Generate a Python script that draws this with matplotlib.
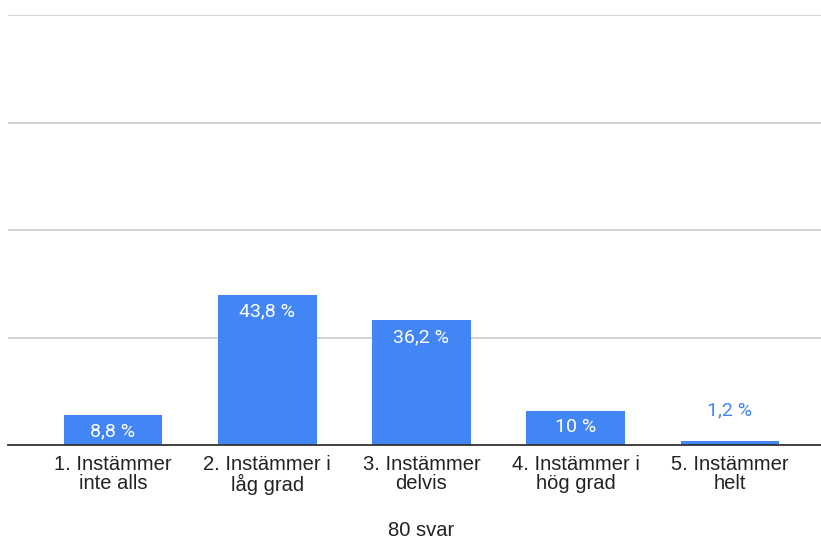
import numpy as np
import matplotlib.pyplot as plt

categories = ['1. Instämmer\ninte alls', '2. Instämmer i\nlåg grad', '3. Instämmer\ndelvis',
              '4. Instämmer i\nhög grad', '5. Instämmer\nhelt']
counts = [7, 35, 29, 8, 1]
pct_labels = ['8,8 %', '43,8 %', '36,2 %', '10 %', '1,2 %']
total_text = '80 svar'

bar_color = '#4285F4'

fig = plt.figure(figsize=(8.21, 5.38), dpi=100)
ax = fig.add_axes([8/821, 93/538, 813/821, 430/538])

x = np.arange(len(categories))
bars = ax.bar(x, counts, width=0.64, color=bar_color, zorder=3)

ax.set_ylim(0, 100)
ax.set_xlim(-0.68, 4.59)
ax.set_yticks([25, 50, 75, 100])
ax.yaxis.grid(True, color='#cccccc', linewidth=1.2, zorder=0)
ax.tick_params(axis='y', length=0, labelleft=False)
ax.tick_params(axis='x', length=0, pad=7)
ax.set_xticks(x)
ax.set_xticklabels(categories, fontsize=14.5, family='Liberation Sans', color='#222222',
                   linespacing=1.0)
for s in ['top', 'right', 'left']:
    ax.spines[s].set_visible(False)
ax.spines['bottom'].set_color('#333333')
ax.spines['bottom'].set_linewidth(1.3)
ax.spines['bottom'].set_zorder(4)

# percentage labels, inside the bar when it fits
for xi, c, lab in zip(x, counts, pct_labels):
    if c >= 5:
        ax.annotate(lab, (xi, c), xytext=(0, -12), textcoords='offset points',
                    ha='center', va='center', color='white', fontsize=14, family='Roboto')
    else:
        ax.annotate(lab, (xi, c), xytext=(0, 22), textcoords='offset points',
                    ha='center', va='center', color=bar_color, fontsize=14, family='Roboto')

fig.text(421/821, 1 - 530/538, total_text, ha='center', va='center', fontsize=14.5,
         family='Liberation Sans', color='#222222')

fig.savefig('out.png', dpi=100)
